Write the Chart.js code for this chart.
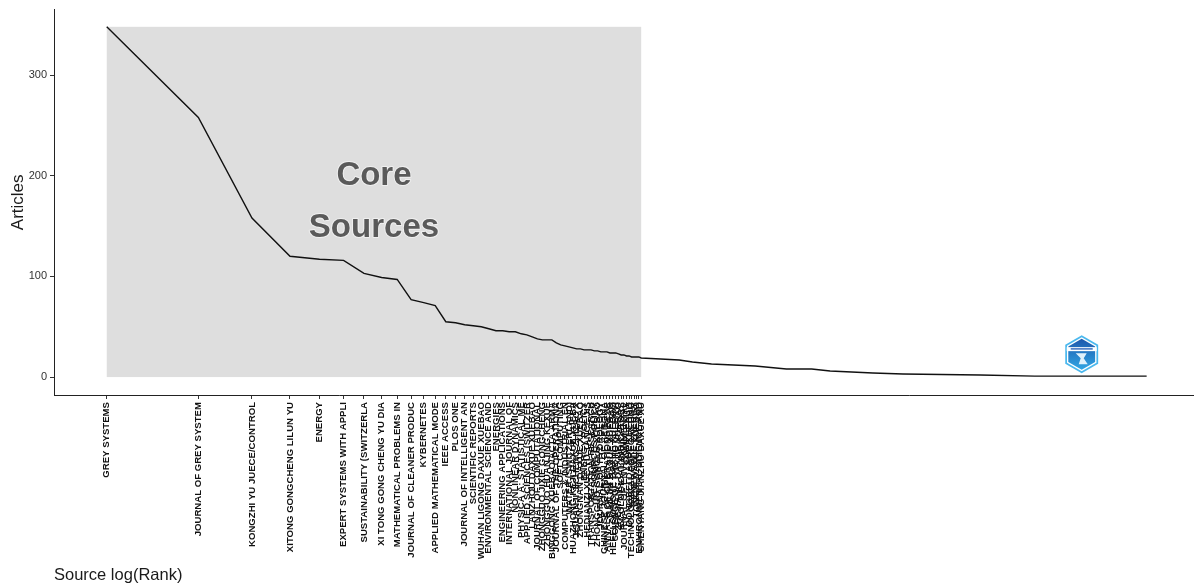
<!DOCTYPE html>
<html>
<head>
<meta charset="utf-8">
<script src="https://cdn.jsdelivr.net/npm/chart.js@4.4.1/dist/chart.umd.min.js"></script>
<style>
  html, body { margin: 0; padding: 0; background: #fff; }
  canvas { display: block; }
</style>
</head>
<body>
<canvas id="bradfordChart" width="1194" height="586"></canvas>
<script>
// Core sources (Bradford zone 1), in rank order
const coreSources = [
    'GREY SYSTEMS', 'JOURNAL OF GREY SYSTEM', 'KONGZHI YU JUECE/CONTROL', 'XITONG GONGCHENG LILUN YU',
    'ENERGY', 'EXPERT SYSTEMS WITH APPLI', 'SUSTAINABILITY (SWITZERLA', 'XI TONG GONG CHENG YU DIA',
    'MATHEMATICAL PROBLEMS IN', 'JOURNAL OF CLEANER PRODUC', 'KYBERNETES', 'APPLIED MATHEMATICAL MODE',
    'IEEE ACCESS', 'PLOS ONE', 'JOURNAL OF INTELLIGENT AN', 'SCIENTIFIC REPORTS',
    'WUHAN LIGONG DAXUE XUEBAO', 'ENVIRONMENTAL SCIENCE AND', 'ENERGIES', 'ENGINEERING APPLICATIONS',
    'INTERNATIONAL JOURNAL OF', 'NONLINEAR DYNAMICS', 'PHYSICA A: STATISTICAL ME', 'APPLIED SCIENCES (SWITZER',
    'LANZHOU DAXUE XUEBAO', 'JOURNAL OF COMPUTATIONAL', 'ZHONGGUO JIXIE GONGCHENG', 'ZHONGGUO HUANJING KEXUE',
    'BINGGONG XUEBAO/ACTA ARMA', 'JOURNAL OF THE OPERATIONA', 'SOFT COMPUTING', 'COMPUTERS & INDUSTRIAL EN',
    'WATER (SWITZERLAND)', 'HUAZHONG KEJI DAXUE XUEBA', 'JISUANJI JICHENG ZHIZAO X', 'ZHONGNAN DAXUE XUEBAO',
    'ENERGY POLICY', 'HEDIANZI XUE YU TANCE JIS', 'TRANSPORTATION RESEARCH', 'RESOURCES POLICY',
    'ZHONGGUO GONGLU XUEBAO', 'JOURNAL OF HYDROLOGY', 'CHINESE JOURNAL OF AERONA', 'ANNALS OF OPERATIONS RESE',
    'TIANJIN DAXUE XUEBAO', 'HEFEI GONGYE DAXUE XUEBAO', 'SCIENCE OF THE TOTAL ENVI', 'ZHEJIANG DAXUE XUEBAO',
    'ECOLOGICAL INDICATORS', 'JOURNAL OF ENVIRONMENTAL', 'COMPLEXITY', 'DONGBEI DAXUE XUEBAO',
    'TECHNOLOGICAL FORECASTING', 'RENEWABLE ENERGY', 'TONGJI DAXUE XUEBAO', 'ENVIRONMENTAL SCIENCE AND',
    'SHENYANG JIANZHU DAXUE XU'
];
const coreArticles = [
    348, 258, 158, 120, 117, 116, 103, 99, 97, 77,
    74, 71, 55, 54, 52, 51, 50, 48, 46, 46,
    45, 45, 43, 42, 40, 38, 37, 37, 37, 34,
    32, 31, 30, 29, 28, 28, 27, 27, 27, 26,
    26, 25, 25, 25, 24, 24, 24, 23, 22, 22,
    21, 21, 20, 20, 20, 20, 19
];

// Remaining sources (zones 2 and 3): rank where each article count is read
const tailRanks = [66, 76, 84, 97, 135, 171, 207, 238, 280, 329, 413, 740, 1120, 2609];
const tailArticles = [18, 17, 15, 13, 11, 8, 8, 6, 5, 4, 3, 2, 1, 1];

const yTicks = [0, 100, 200, 300];

const coreRanks = coreArticles.map((_, i) => i + 1);
const points = coreRanks.map((r, i) => ({ x: r, y: coreArticles[i] }))
    .concat(tailRanks.map((r, i) => ({ x: r, y: tailArticles[i] })));

// Grey box + "Core Sources" label behind the line
const coreZonePlugin = {
    id: 'coreZone',
    beforeDatasetsDraw(chart) {
        const { ctx, scales: { x, y } } = chart;
        const x0 = x.getPixelForValue(1);
        const x1 = x.getPixelForValue(coreSources.length);
        const y0 = y.getPixelForValue(0);
        const y1 = y.getPixelForValue(Math.max(...coreArticles));
        ctx.save();
        ctx.fillStyle = '#dedede';
        ctx.fillRect(x0, y1, x1 - x0, y0 - y1);

        const cx = x.getPixelForValue(Math.sqrt(coreSources.length));
        const cy = (y0 + y1) / 2;
        ctx.font = 'bold 33px "Liberation Sans", Arial, sans-serif';
        ctx.textAlign = 'center';
        ctx.textBaseline = 'middle';
        ctx.lineJoin = 'round';
        ctx.lineWidth = 2;
        ctx.strokeStyle = 'rgba(255,255,255,0.55)';
        ctx.strokeText('Core', cx, cy - 26);
        ctx.strokeText('Sources', cx, cy + 26);
        ctx.fillStyle = '#5a5a5a';
        ctx.fillText('Core', cx, cy - 26);
        ctx.fillText('Sources', cx, cy + 26);
        ctx.restore();
    }
};

// Small hexagon badge at lower right
const badgePlugin = {
    id: 'badge',
    afterDraw(chart) {
        const { ctx, chartArea } = chart;
        const cx = chartArea.left + (chartArea.right - chartArea.left) * 0.9015;
        const cy = chartArea.top + (chartArea.bottom - chartArea.top) * 0.894;
        const r = 19;
        const hex = (rad) => {
            ctx.beginPath();
            for (let k = 0; k < 6; k++) {
                const a = Math.PI / 3 * k - Math.PI / 2;
                const px = cx + rad * Math.cos(a);
                const py = cy + rad * Math.sin(a);
                k === 0 ? ctx.moveTo(px, py) : ctx.lineTo(px, py);
            }
            ctx.closePath();
        };
        ctx.save();
        hex(r);
        ctx.fillStyle = '#4ab8ee';
        ctx.fill();
        hex(r - 2);
        ctx.fillStyle = '#ffffff';
        ctx.fill();
        hex(r - 3.5);
        const g = ctx.createLinearGradient(0, cy - r, 0, cy + r);
        g.addColorStop(0, '#1c4fa6');
        g.addColorStop(1, '#31aeea');
        ctx.fillStyle = g;
        ctx.fill();
        // name band and figure
        ctx.fillStyle = '#ffffff';
        ctx.fillRect(cx - 15, cy - 7, 30, 4);
        ctx.fillStyle = '#3a6fc0';
        ctx.fillRect(cx - 11, cy - 6, 22, 1.5);
        ctx.fillStyle = '#dff1fb';
        ctx.beginPath();
        ctx.moveTo(cx - 6, cy - 1);
        ctx.lineTo(cx + 5, cy - 1);
        ctx.lineTo(cx + 2, cy + 4);
        ctx.lineTo(cx + 6, cy + 10);
        ctx.lineTo(cx - 3, cy + 10);
        ctx.lineTo(cx - 1, cy + 4);
        ctx.closePath();
        ctx.fill();
        ctx.restore();
    }
};

new Chart(document.getElementById('bradfordChart').getContext('2d'), {
    type: 'line',
    data: {
        datasets: [{
            label: 'Articles',
            data: points,
            borderColor: '#111111',
            borderWidth: 1.4,
            pointRadius: 0,
            tension: 0,
            fill: false
        }]
    },
    options: {
        responsive: false,
        animation: false,
        events: [],
        layout: { padding: { top: 7, right: 0, left: 0, bottom: 0 } },
        plugins: {
            legend: { display: false },
            tooltip: { enabled: false }
        },
        scales: {
            x: {
                type: 'logarithmic',
                min: 0.671,
                max: 3733,
                afterBuildTicks: (scale) => {
                    scale.ticks = coreRanks.map(v => ({ value: v }));
                },
                afterFit: (scale) => { scale.height = 191; },
                grid: { display: true, drawOnChartArea: false, drawTicks: true, tickLength: 4, color: '#333333' },
                border: { display: true, color: '#222222', width: 1 },
                ticks: {
                    autoSkip: false,
                    minRotation: 90,
                    maxRotation: 90,
                    padding: 3,
                    color: '#111111',
                    font: { family: '"Liberation Sans", Arial, sans-serif', size: 9.6, weight: 'bold' },
                    callback: (value, index) => coreSources[index]
                },
                title: {
                    display: true,
                    text: 'Source log(Rank)',
                    align: 'start',
                    color: '#1a1a1a',
                    font: { family: '"Liberation Sans", Arial, sans-serif', size: 16.5 },
                    padding: { top: 0, bottom: 1 }
                }
            },
            y: {
                type: 'linear',
                min: -17.8,
                max: 365.1,
                afterBuildTicks: (scale) => {
                    scale.ticks = yTicks.map(v => ({ value: v }));
                },
                afterFit: (scale) => { scale.width = 54; },
                grid: { display: true, drawOnChartArea: false, drawTicks: true, tickLength: 4, color: '#333333' },
                border: { display: true, color: '#222222', width: 1 },
                ticks: {
                    padding: 3,
                    color: '#333333',
                    font: { family: '"Liberation Sans", Arial, sans-serif', size: 11 }
                },
                title: {
                    display: true,
                    text: 'Articles',
                    color: '#1a1a1a',
                    font: { family: '"Liberation Sans", Arial, sans-serif', size: 17 },
                    padding: { top: 8, bottom: 0 }
                }
            }
        }
    },
    plugins: [coreZonePlugin, badgePlugin]
});
</script>
</body>
</html>
